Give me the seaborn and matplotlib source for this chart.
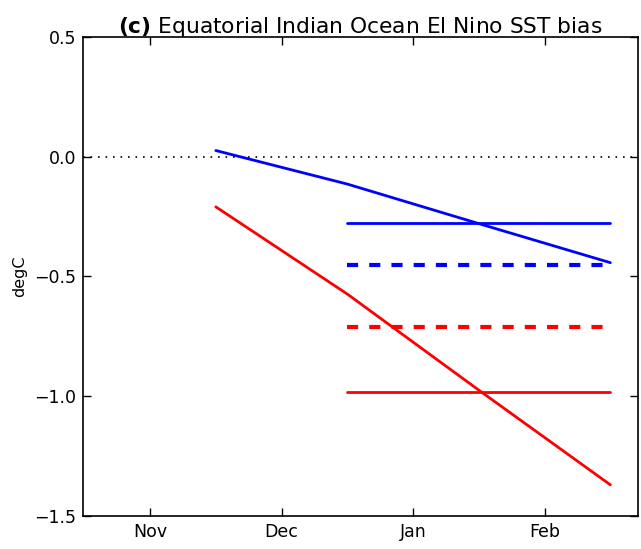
import matplotlib
matplotlib.use("Agg")
import matplotlib.pyplot as plt
import numpy as np
import pandas as pd
import seaborn as sns

# Month positions (Nov = 0, Dec = 1, Jan = 2, Feb = 3)
month_ticks = [0, 1, 2, 3]
month_labels = ["Nov", "Dec", "Jan", "Feb"]

# Evolving SST bias of the two runs (degC)
lead_x = [0.5, 1.5, 2.5, 3.5]
blue_bias = [0.025, -0.115, -0.28, -0.443]
red_bias = [-0.21, -0.574, -0.975, -1.37]

# DJF mean levels, drawn across Dec-mid to Feb-mid
level_span = [1.5, 3.5]
blue_solid_level = -0.279
blue_dashed_level = -0.453
red_dashed_level = -0.71
red_solid_level = -0.982

sns.set_style("ticks")
plt.rcParams["font.family"] = ["DejaVu Sans"]
plt.rcParams["axes.unicode_minus"] = True
plt.rcParams["text.color"] = "black"
plt.rcParams["axes.labelcolor"] = "black"

fig = plt.figure(figsize=(6.41, 5.49), dpi=100)
ax = fig.add_axes([83 / 641, 1 - 516 / 549, (638 - 83) / 641, (516 - 36.7) / 549])

df = pd.DataFrame({
    "x": lead_x * 2,
    "bias": blue_bias + red_bias,
    "run": ["blue"] * len(lead_x) + ["red"] * len(lead_x),
})

ax.axhline(0, color="black", lw=1.2, ls=(0, (1, 3.5)), zorder=1)

sns.lineplot(data=df, x="x", y="bias", hue="run",
             palette={"blue": "#0000ff", "red": "#ff0000"},
             lw=2, legend=False, ax=ax, zorder=3)

levels = pd.DataFrame({
    "x": level_span * 4,
    "bias": [blue_solid_level] * 2 + [blue_dashed_level] * 2
            + [red_dashed_level] * 2 + [red_solid_level] * 2,
    "line": ["bs"] * 2 + ["bd"] * 2 + ["rd"] * 2 + ["rs"] * 2,
})
styles = {"bs": ("#0000ff", "-", 2), "bd": ("#0000ff", "--", 3),
          "rd": ("#ff0000", "--", 3), "rs": ("#ff0000", "-", 2)}
for key, sub in levels.groupby("line"):
    col, ls, lw = styles[key]
    sns.lineplot(data=sub, x="x", y="bias", color=col, lw=lw, ax=ax, zorder=2)
for ln in ax.lines:
    if ln.get_linewidth() == 3:
        ln.set_dashes((8 / 3, 8 / 3))
        ln.set_dash_capstyle("butt")

ax.set_xlim(-0.51, 3.71)
ax.set_ylim(-1.5, 0.5)
ax.set_xticks(month_ticks)
ax.set_xticklabels(month_labels)
ax.set_yticks([0.5, 0.0, -0.5, -1.0, -1.5])
ax.set_yticklabels(["0.5", "0.0", "\u22120.5", "\u22121.0", "\u22121.5"])
ax.set_xlabel("")
ax.set_ylabel("degC", fontsize=11.5, labelpad=5)
ax.tick_params(direction="in", top=True, right=True, length=6, width=1,
               labelsize=12.5, pad=5, colors="black")
for sp in ax.spines.values():
    sp.set_linewidth(1.2)
    sp.set_color("black")

ax.set_title(r"$\mathbf{(c)}$ Equatorial Indian Ocean El Nino SST bias",
             fontsize=15.7, pad=2.5, color="black")

fig.savefig("out.png", dpi=100, facecolor="white")
